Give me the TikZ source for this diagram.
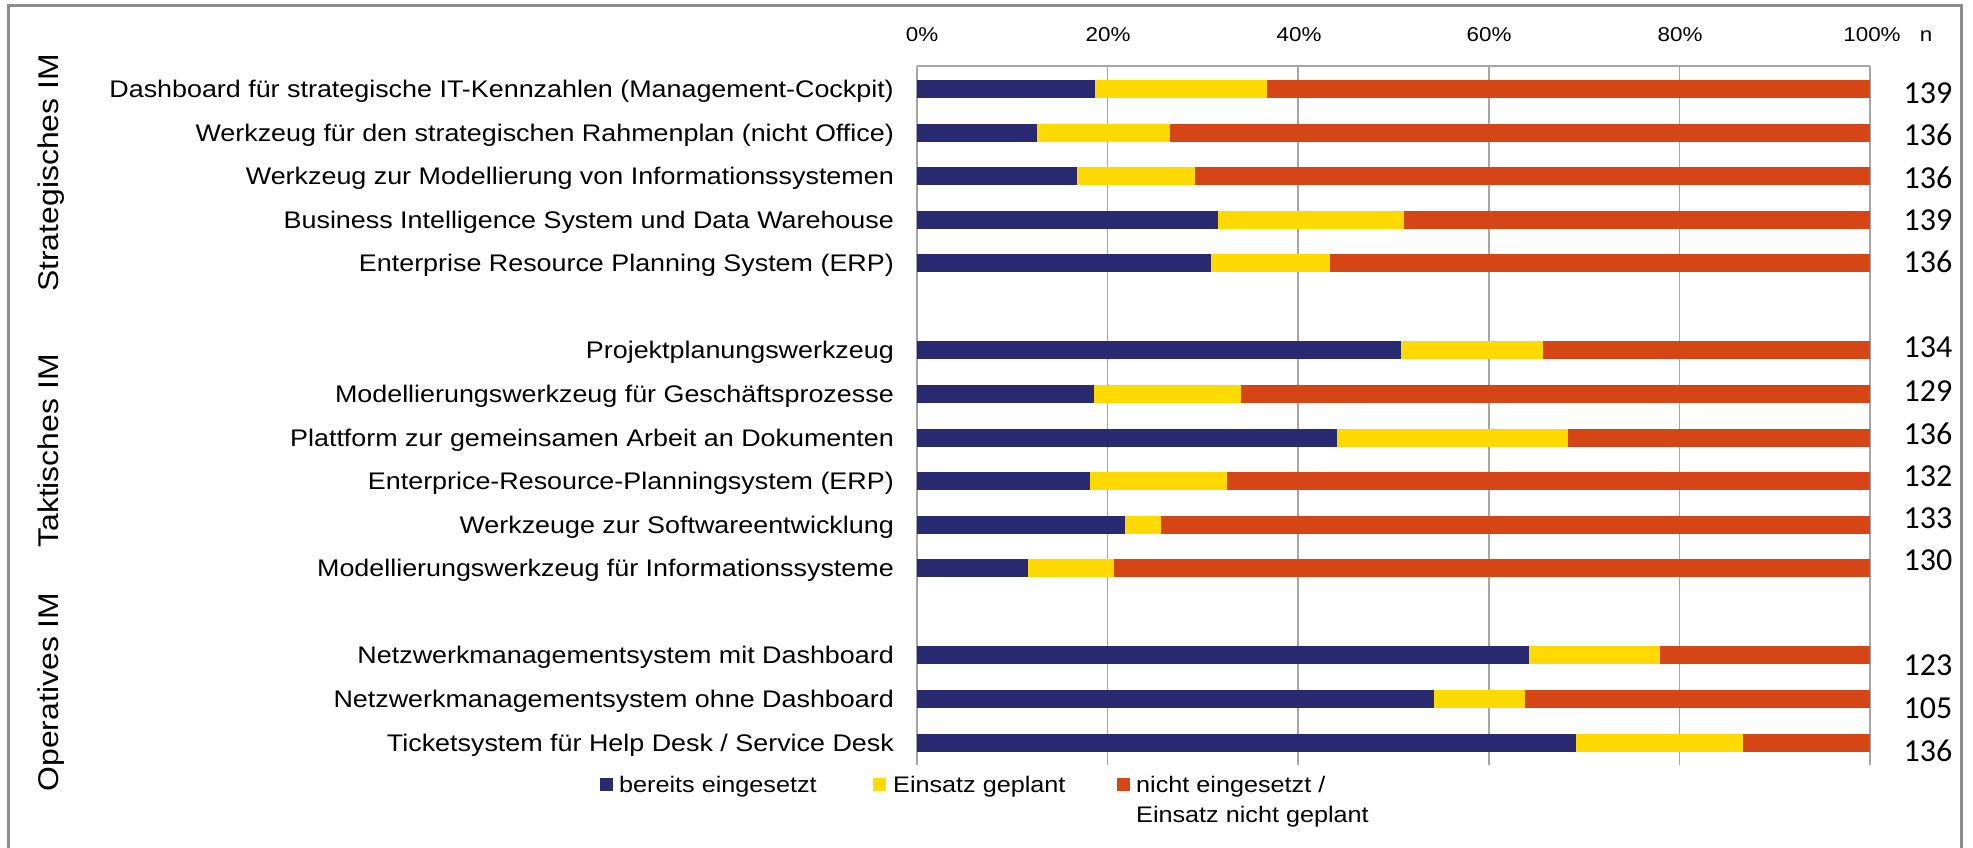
\documentclass[tikz,border=0pt]{standalone}
\usepackage{fontspec}
\setmainfont{Liberation Sans}[FakeStretch=1.12]
\newfontfamily\nfont{Carlito}
\definecolor{cblue}{RGB}{42,42,114}
\definecolor{cyellow}{RGB}{255,217,0}
\definecolor{cred}{RGB}{214,69,22}
\definecolor{gridgray}{RGB}{166,166,166}
\definecolor{framegray}{RGB}{140,140,140}
\newcommand\chartrow[7]{%
  \pgfmathsetmacro\yy{89+43.57*#1}%
  \pgfmathsetmacro\xb{917+9.53*#2}%
  \pgfmathsetmacro\xy{917+9.53*#3}%
  \fill[cblue] (917,{\yy-9}) rectangle (\xb,{\yy+9});
  \fill[cyellow] (\xb,{\yy-9}) rectangle (\xy,{\yy+9});
  \fill[cred] (\xy,{\yy-9}) rectangle (1870,{\yy+9});
  \node[rowlab] (r#6) at (894,{\yy+8.5}) {#4};
  \node[nlab] (n#6) at (1928,{#7+10}) {#5};
}
\begin{document}
\begin{tikzpicture}[x=1pt,y=-1pt,
  rowlab/.style={anchor=base east, inner sep=0pt, font=\fontsize{24}{28}\selectfont},
  nlab/.style={anchor=base, inner sep=0pt, font=\nfont\fontsize{32}{36}\selectfont},
  ticklab/.style={anchor=base, inner sep=0pt, font=\fontsize{20}{24}\selectfont},
  grouplab/.style={anchor=base, rotate=90, inner sep=0pt, font=\fontsize{28.5}{32}\selectfont},
  leglab/.style={anchor=base west, inner sep=0pt, align=left, font=\fontsize{22.5}{30}\selectfont},
  gridline/.style={draw=gridgray, line width=1.5pt}]
\useasboundingbox (0,0) rectangle (1973,848);
\fill[white] (0,0) rectangle (1973,848);
\draw[framegray, line width=3pt] (8,852) -- (8,6) -- (1961,6) -- (1961,852);
% grid
\foreach \k in {0,...,5} {
  \draw[gridline] ({917+190.6*\k},66) -- ({917+190.6*\k},765);
}
\draw[gridline] (917,66) -- (1870,66);
% tick labels
\node[ticklab] (t0) at (922,41.5) {0\%};
\node[ticklab] (t20) at (1108,41.5) {20\%};
\node[ticklab] (t40) at (1299,41.5) {40\%};
\node[ticklab] (t60) at (1489,41.5) {60\%};
\node[ticklab] (t80) at (1680,41.5) {80\%};
\node[ticklab] (t100) at (1872,41.5) {100\%};
\node[ticklab] (tn) at (1926,41.5) {n};
% rows
\chartrow{0}{18.7}{36.75}{Dashboard für strategische IT-Kennzahlen (Management-Cockpit)}{139}{a}{94}
\chartrow{1}{12.6}{26.5}{Werkzeug für den strategischen Rahmenplan (nicht Office)}{136}{b}{136}
\chartrow{2}{16.8}{29.2}{Werkzeug zur Modellierung von Informationssystemen}{136}{c}{178.7}
\chartrow{3}{31.6}{51.1}{Business Intelligence System und Data Warehouse}{139}{d}{220.5}
\chartrow{4}{30.8}{43.3}{Enterprise Resource Planning System (ERP)}{136}{e}{262.5}
\chartrow{6}{50.8}{65.7}{Projektplanungswerkzeug}{134}{f}{347.5}
\chartrow{7}{18.6}{34.0}{Modellierungswerkzeug für Geschäftsprozesse\ }{129}{g}{391}
\chartrow{8}{44.1}{68.3}{Plattform zur gemeinsamen Arbeit an Dokumenten}{136}{h}{434}
\chartrow{9}{18.2}{32.5}{Enterprice-Resource-Planningsystem (ERP)}{132}{i}{476}
\chartrow{10}{21.8}{25.6}{Werkzeuge zur Softwareentwicklung}{133}{j}{518}
\chartrow{11}{11.6}{20.7}{Modellierungswerkzeug für Informationssysteme}{130}{k}{560}
\chartrow{13}{64.2}{78.0}{Netzwerkmanagementsystem mit Dashboard}{123}{l}{665}
\chartrow{14}{54.3}{63.8}{Netzwerkmanagementsystem ohne Dashboard}{105}{m}{708}
\chartrow{15}{69.1}{86.7}{Ticketsystem für Help Desk / Service Desk}{136}{o}{751}
% group labels
\node[grouplab] (gs) at (58.5,173) {Strategisches IM};
\node[grouplab] (gt) at (58.5,451) {Taktisches IM};
\node[grouplab] (go) at (58.5,692) {Operatives IM};
% legend
\fill[cblue] (600,778) rectangle (613,791);
\node[leglab] (l1) at (619,792) {bereits eingesetzt};
\fill[cyellow] (873,778) rectangle (886,791);
\node[leglab] (l2) at (893,792) {Einsatz geplant};
\fill[cred] (1117,778) rectangle (1130,791);
\node[leglab] (l3) at (1136,822) {nicht eingesetzt /\\Einsatz nicht geplant};
\end{tikzpicture}
\end{document}
